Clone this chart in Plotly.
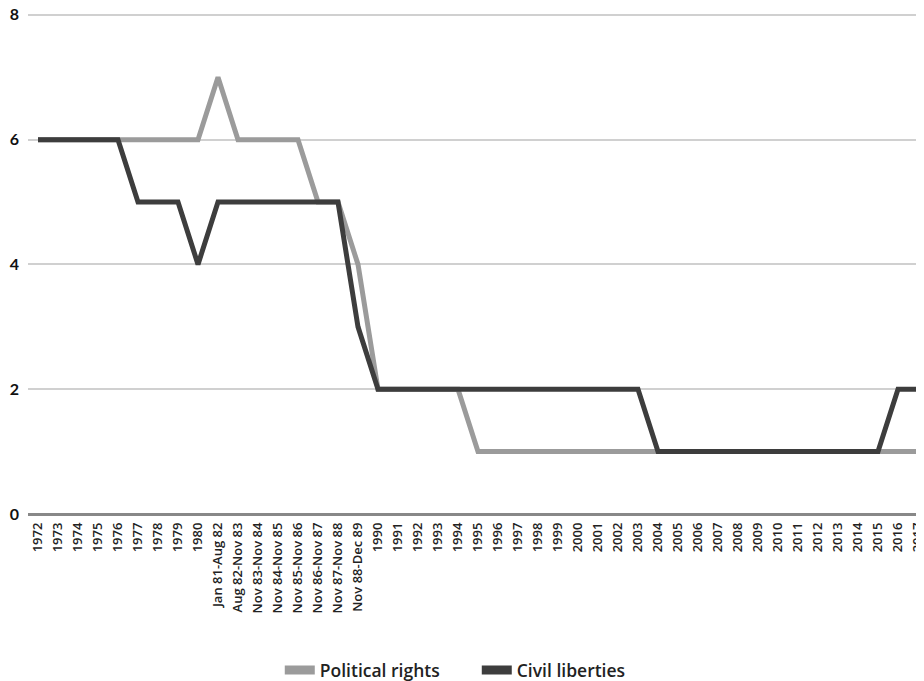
import plotly.graph_objects as go

categories = ["1972", "1973", "1974", "1975", "1976", "1977", "1978", "1979", "1980",
              "Jan 81-Aug 82", "Aug 82-Nov 83", "Nov 83-Nov 84", "Nov 84-Nov 85",
              "Nov 85-Nov 86", "Nov 86-Nov 87", "Nov 87-Nov 88", "Nov 88-Dec 89",
              "1990", "1991", "1992", "1993", "1994", "1995", "1996", "1997", "1998",
              "1999", "2000", "2001", "2002", "2003", "2004", "2005", "2006", "2007",
              "2008", "2009", "2010", "2011", "2012", "2013", "2014", "2015", "2016", "2017"]

political_rights = [6, 6, 6, 6, 6, 6, 6, 6, 6,
                    7, 6, 6, 6, 6, 5, 5, 4,
                    2, 2, 2, 2, 2, 1, 1, 1, 1,
                    1, 1, 1, 1, 1, 1, 1, 1, 1,
                    1, 1, 1, 1, 1, 1, 1, 1, 1, 1]

civil_liberties = [6, 6, 6, 6, 6, 5, 5, 5, 4,
                   5, 5, 5, 5, 5, 5, 5, 3,
                   2, 2, 2, 2, 2, 2, 2, 2, 2,
                   2, 2, 2, 2, 2, 1, 1, 1, 1,
                   1, 1, 1, 1, 1, 1, 1, 1, 2, 2]

y_ticks = [0, 2, 4, 6, 8]

series = [("Political rights", political_rights, "#9b9b9b"),
          ("Civil liberties", civil_liberties, "#3d3d3d")]

x_idx = list(range(len(categories)))

fig = go.Figure()
for name, vals, col in series:
    fig.add_trace(go.Scatter(x=x_idx, y=vals, mode="lines", name=name, showlegend=False,
                             line=dict(color=col, width=5)))
for name, vals, col in series:
    fig.add_trace(go.Scatter(x=[None], y=[None], mode="lines", name=name, showlegend=True,
                             line=dict(color=col, width=9)))

fig.update_layout(
    width=916, height=673,
    margin=dict(l=20, r=0, t=5, b=167, autoexpand=False),
    plot_bgcolor="white", paper_bgcolor="white",
    font=dict(family="Open Sans, sans-serif", color="#222222"),
    showlegend=True,
    legend=dict(orientation="h", x=0.281, xanchor="left", y=-0.3114, yanchor="middle",
                font=dict(size=17.5, color="#222222", family="Open Sans, sans-serif", weight=600),
                itemwidth=30, entrywidth=152, traceorder="normal"),
    xaxis=dict(
        tickmode="array", tickvals=x_idx, ticktext=categories,
        tickangle=-90, tickfont=dict(size=13, family="Open Sans, sans-serif", color="#222222", weight=600),
        range=[-0.5, 44.3], showgrid=False, showline=False, zeroline=False,
        ticks="", ticklen=0, automargin=False, ticklabeloverflow="allow",
        ticklabelstandoff=5,
    ),
    yaxis=dict(
        tickmode="array", tickvals=y_ticks, range=[0, 8.03],
        showgrid=True, gridcolor="#d0d0d0", gridwidth=1.5,
        zeroline=True, zerolinecolor="#888888", zerolinewidth=2.5,
        showline=False, ticks="", automargin=False, ticklabeloverflow="allow",
        ticklabelstandoff=8,
        tickfont=dict(size=16, family="Lato, sans-serif", color="#111111", weight="bold"),
    ),
)

fig.write_html("out.html")
